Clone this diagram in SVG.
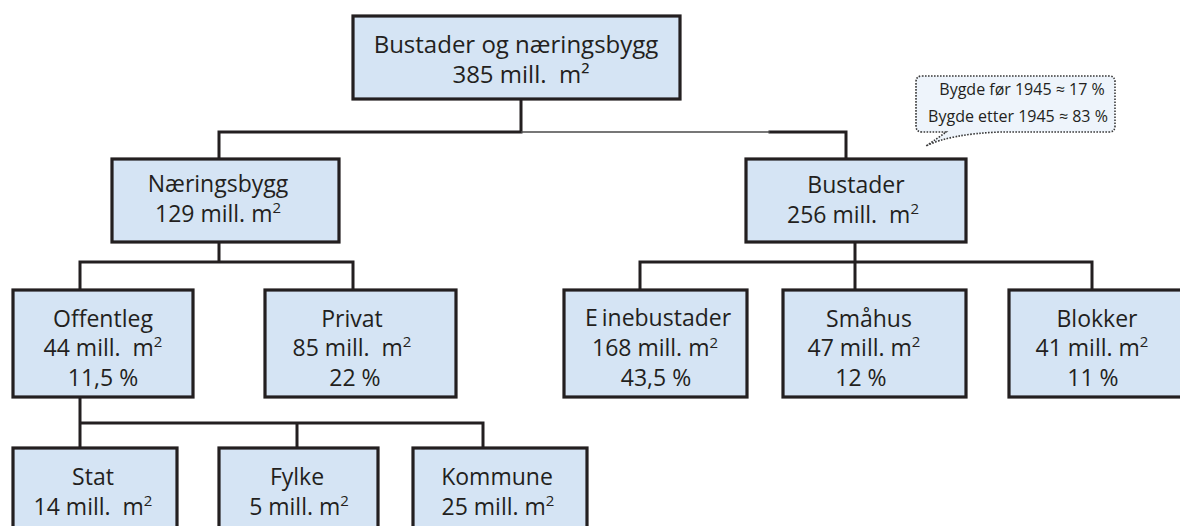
<svg xmlns="http://www.w3.org/2000/svg" width="1180" height="526" viewBox="0 0 1180 526">
<style>
.box{fill:#d5e4f4;stroke:#231f20;stroke-width:3.2}
.t{font-family:"Open Sans","Noto Sans","DejaVu Sans",sans-serif;font-size:23px;fill:#231f20;text-anchor:middle}
.top{font-size:24px}
.sup{font-size:15px}
.c{fill:none;stroke:#231f20;stroke-width:3;stroke-linecap:square}
.thin{fill:none;stroke:#4a4a4a;stroke-width:1.5}
.call{fill:#eef4fb;stroke:#3a3a3a;stroke-width:1.6;stroke-dasharray:1.6 1.4}
.ct{font-family:"Open Sans","Noto Sans","DejaVu Sans",sans-serif;font-size:16px;fill:#231f20;text-anchor:middle}
</style>
<rect width="1180" height="526" fill="#ffffff"/>
<g id="connectors">
  <path class="c" d="M521 99 V132 M219 132 H521 M770 132 H846 M219 132 V159 M846 132 V159"/>
  <path class="thin" d="M521 132 H770"/>
  <path class="c" d="M219 242 V262 M80 262 H353 M80 262 V290 M353 262 V290"/>
  <path class="c" d="M855 242 V262 M640 262 H1092 M640 262 V290 M855 262 V290 M1092 262 V290"/>
  <path class="c" d="M80 397 V448 M80 423 H483 M297 423 V448 M483 423 V448"/>
</g>
<g id="callout">
  <path class="call" d="M922 76 H1109 Q1115 76 1115 82 V126 Q1115 132 1109 132 H1000 Q950 134 926 146 Q938 138 946 132 H922 Q916 132 916 126 V82 Q916 76 922 76 Z"/>
  <text class="ct" x="1022" y="95">Bygde før 1945 ≈ 17 %</text>
  <text class="ct" x="1018" y="122">Bygde etter 1945 ≈ 83 %</text>
</g>
<g id="node-total">
  <rect class="box" x="353" y="16" width="327" height="83"/>
  <text class="t top" x="516" y="53">Bustader og næringsbygg</text>
  <text class="t top" x="521" y="83">385 mill.&#160; m²</text>
</g>
<g id="node-naeringsbygg">
  <rect class="box" x="112" y="159" width="227" height="83"/>
  <text class="t" x="218" y="192">Næringsbygg</text>
  <text class="t" x="218" y="222">129 mill. m<tspan class="sup" dy="-9">2</tspan></text>
</g>
<g id="node-bustader">
  <rect class="box" x="746" y="159" width="220" height="83"/>
  <text class="t" x="856" y="193">Bustader</text>
  <text class="t" x="853" y="223">256 mill.&#160; m<tspan class="sup" dy="-9">2</tspan></text>
</g>
<g id="node-offentleg">
  <rect class="box" x="13" y="290" width="180" height="107"/>
  <text class="t" x="103" y="327">Offentleg</text>
  <text class="t" x="103" y="356">44 mill.&#160; m<tspan class="sup" dy="-9">2</tspan></text>
  <text class="t" x="103" y="386">11,5 %</text>
</g>
<g id="node-privat">
  <rect class="box" x="265" y="290" width="191" height="107"/>
  <text class="t" x="352" y="327">Privat</text>
  <text class="t" x="352" y="356">85 mill.&#160; m<tspan class="sup" dy="-9">2</tspan></text>
  <text class="t" x="355" y="386">22 %</text>
</g>
<g id="node-einebustader">
  <rect class="box" x="564" y="290" width="183" height="107"/>
  <text class="t" x="658" y="326">E<tspan dx="4">inebustader</tspan></text>
  <text class="t" x="655" y="356">168 mill. m<tspan class="sup" dy="-8">2</tspan></text>
  <text class="t" x="656" y="386">43,5 %</text>
</g>
<g id="node-smahus">
  <rect class="box" x="783" y="290" width="183" height="107"/>
  <text class="t" x="869" y="327">Småhus</text>
  <text class="t" x="864" y="356">47 mill. m<tspan class="sup" dy="-9">2</tspan></text>
  <text class="t" x="861" y="386">12 %</text>
</g>
<g id="node-blokker">
  <rect class="box" x="1009" y="290" width="178" height="107"/>
  <text class="t" x="1097" y="327">Blokker</text>
  <text class="t" x="1092" y="356">41 mill. m<tspan class="sup" dy="-9">2</tspan></text>
  <text class="t" x="1093" y="386">11 %</text>
</g>
<g id="node-stat">
  <rect class="box" x="13" y="448" width="164" height="90"/>
  <text class="t" x="93" y="485">Stat</text>
  <text class="t" x="93" y="515">14 mill.&#160; m<tspan class="sup" dy="-9">2</tspan></text>
</g>
<g id="node-fylke">
  <rect class="box" x="219" y="448" width="159" height="90"/>
  <text class="t" x="297" y="485">Fylke</text>
  <text class="t" x="299" y="515">5 mill. m<tspan class="sup" dy="-9">2</tspan></text>
</g>
<g id="node-kommune">
  <rect class="box" x="413" y="448" width="174" height="90"/>
  <text class="t" x="497" y="485">Kommune</text>
  <text class="t" x="498" y="515">25 mill. m<tspan class="sup" dy="-9">2</tspan></text>
</g>
</svg>
